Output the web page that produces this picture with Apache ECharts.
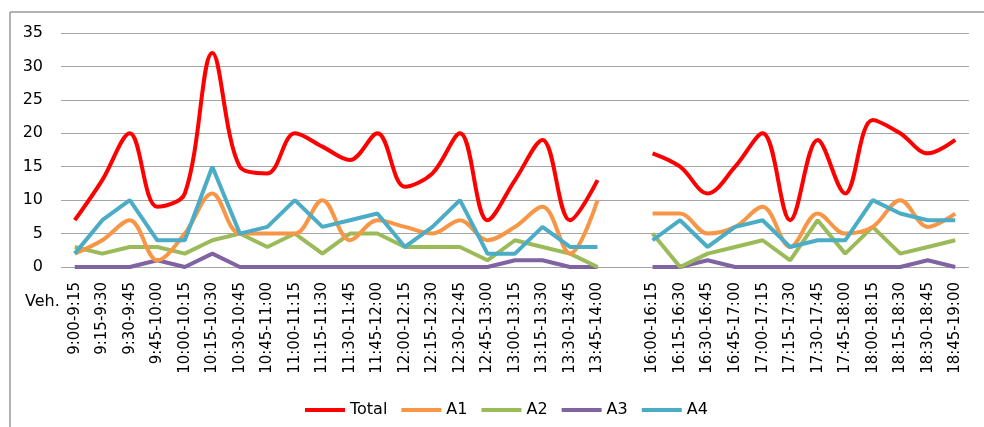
<!DOCTYPE html>
<html>
<head>
<meta charset="utf-8">
<script src="https://cdn.jsdelivr.net/npm/echarts@6/dist/echarts.min.js"></script>
<style>
    html, body { margin: 0; padding: 0; background: #fff; }
    #chart { width: 984px; height: 427px; }
</style>
</head>
<body>
<div id="chart"></div>
<script>
(function() {
    'use strict';

    // time slots, with one empty slot for the break between sessions
    var categories = [
        '9:00-9:15', '9:15-9:30', '9:30-9:45', '9:45-10:00', '10:00-10:15',
        '10:15-10:30', '10:30-10:45', '10:45-11:00', '11:00-11:15', '11:15-11:30',
        '11:30-11:45', '11:45-12:00', '12:00-12:15', '12:15-12:30', '12:30-12:45',
        '12:45-13:00', '13:00-13:15', '13:15-13:30', '13:30-13:45', '13:45-14:00',
        '',
        '16:00-16:15', '16:15-16:30', '16:30-16:45', '16:45-17:00', '17:00-17:15',
        '17:15-17:30', '17:30-17:45', '17:45-18:00', '18:00-18:15', '18:15-18:30',
        '18:30-18:45', '18:45-19:00'
    ];

    var total = [7, 13, 20, 9, 11, 32, 15, 14, 20, 18, 16, 20, 12, 14, 20, 7, 13, 19, 7, 13,
        null,
        17, 15, 11, 15, 20, 7, 19, 11, 22, 20, 17, 19];
    var a1 = [2, 4, 7, 1, 5, 11, 5, 5, 5, 10, 4, 7, 6, 5, 7, 4, 6, 9, 2, 10,
        null,
        8, 8, 5, 6, 9, 3, 8, 5, 6, 10, 6, 8];
    var a2 = [3, 2, 3, 3, 2, 4, 5, 3, 5, 2, 5, 5, 3, 3, 3, 1, 4, 3, 2, 0,
        null,
        5, 0, 2, 3, 4, 1, 7, 2, 6, 2, 3, 4];
    var a3 = [0, 0, 0, 1, 0, 2, 0, 0, 0, 0, 0, 0, 0, 0, 0, 0, 1, 1, 0, 0,
        null,
        0, 0, 1, 0, 0, 0, 0, 0, 0, 0, 1, 0];
    var a4 = [2, 7, 10, 4, 4, 15, 5, 6, 10, 6, 7, 8, 3, 6, 10, 2, 2, 6, 3, 3,
        null,
        4, 7, 3, 6, 7, 3, 4, 4, 10, 8, 7, 7];

    var FONT = 'DejaVu Sans';
    var GRID_GRAY = '#A6A6A6';

    function lineSeries(name, data, color, smooth) {
        return {
            name: name,
            type: 'line',
            data: data,
            smooth: smooth ? 0.35 : false,
            symbol: 'none',
            connectNulls: false,
            lineStyle: { color: color, width: 4 },
            itemStyle: { color: color },
            emphasis: { disabled: true }
        };
    }

    var chart = echarts.init(document.getElementById('chart'), null, { renderer: 'canvas' });

    chart.setOption({
        animation: false,
        backgroundColor: '#fff',
        grid: { left: 61, right: 15, top: 33, bottom: 160, containLabel: false },
        legend: {
            left: 300,
            top: 397,
            icon: 'rect',
            itemWidth: 40,
            itemHeight: 4,
            itemGap: 14,
            textStyle: { fontFamily: FONT, fontSize: 16, color: '#000' },
            data: ['Total', 'A1', 'A2', 'A3', 'A4']
        },
        xAxis: {
            type: 'category',
            data: categories,
            boundaryGap: true,
            axisLine: { show: false },
            axisTick: { show: false },
            axisLabel: {
                interval: 0,
                rotate: 90,
                margin: 15,
                fontFamily: FONT,
                fontSize: 15,
                color: '#000'
            }
        },
        yAxis: {
            type: 'value',
            min: 0,
            max: 35,
            interval: 5,
            axisLine: { show: false },
            axisTick: { show: false },
            axisLabel: { margin: 18, fontFamily: FONT, fontSize: 16, color: '#000' },
            splitLine: { lineStyle: { color: GRID_GRAY, width: 1.2 } }
        },
        graphic: [
            {
                type: 'line',
                shape: { x1: 10, y1: 12, x2: 984, y2: 12 },
                style: { stroke: '#999', lineWidth: 1.5 }
            },
            {
                type: 'line',
                shape: { x1: 10, y1: 12, x2: 10, y2: 427 },
                style: { stroke: '#999', lineWidth: 1.5 }
            },
            {
                type: 'text',
                left: 25,
                top: 294,
                style: { text: 'Veh.', font: '16px "DejaVu Sans"', fill: '#000' }
            }
        ],
        series: [
            lineSeries('A3', a3, '#8064A2', false),
            lineSeries('A2', a2, '#9BBB59', false),
            lineSeries('A1', a1, '#F79646', true),
            lineSeries('A4', a4, '#4BACC6', false),
            lineSeries('Total', total, '#FF0000', true)
        ]
    });
})();
</script>
</body>
</html>
